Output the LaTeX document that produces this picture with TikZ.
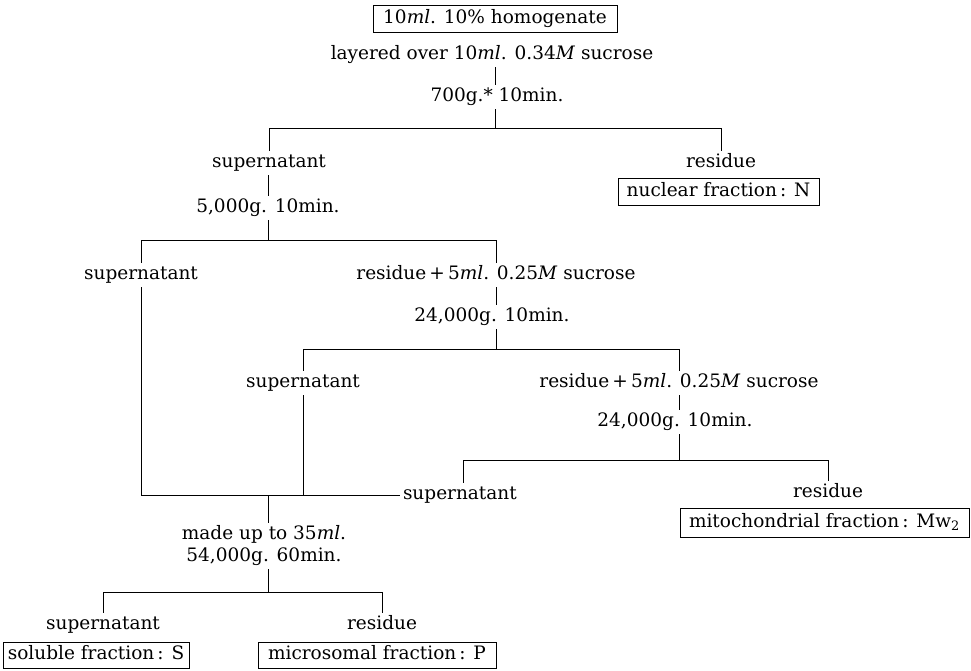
\documentclass[tikz,border=0pt]{standalone}
\usepackage{fontspec}
\setmainfont{DejaVu Serif}
\begin{document}
\begin{tikzpicture}[x=1pt,y=-1pt,
  txt/.style={font=\fontsize{18.5}{22}\selectfont, inner sep=0pt, outer sep=3pt, text height=14pt, text depth=4.5pt},
  fbox/.style={txt, draw, line width=0.8pt, outer sep=0pt},
  ln/.style={line width=0.8pt}]
\useasboundingbox (0,0) rectangle (971,670);
% junction coordinates
\coordinate (a1) at (495,128); \coordinate (a1l) at (269,128); \coordinate (a1r) at (721,128);
\coordinate (a2) at (268,240); \coordinate (a2l) at (141,240); \coordinate (a2r) at (496,240);
\coordinate (a3) at (496,349); \coordinate (a3l) at (303,349); \coordinate (a3r) at (679,349);
\coordinate (a4) at (679,460); \coordinate (a4l) at (463,460); \coordinate (a4r) at (828,460);
\coordinate (m) at (268,495); \coordinate (ml) at (141,495);
\coordinate (a5) at (268,592); \coordinate (a5l) at (103,592); \coordinate (a5r) at (382,592);
% nodes
\node[fbox, minimum width=244pt, minimum height=27pt] (hom) at (495,18.5) {10\textit{ml}. 10\% homogenate};
\node[txt] (lay) at (492,55) {layered over 10\textit{ml}. 0.34\textit{M} sucrose};
\node[txt] (c700) at (497,97) {700g.* 10min.};
\node[txt] (sup1) at (269,163) {supernatant};
\node[txt] (res1) at (721,163) {residue};
\node[fbox, minimum width=201pt, minimum height=27pt] (nuc) at (718.5,191.5) {nuclear fraction\,: N};
\node[txt] (c5000) at (268,208) {5,000g. 10min.};
\node[txt] (sup2) at (141,275) {supernatant};
\node[txt] (res2) at (496,275) {residue\,+\,5\textit{ml}. 0.25\textit{M} sucrose};
\node[txt] (c24a) at (492,317) {24,000g. 10min.};
\node[txt] (sup3) at (303,383) {supernatant};
\node[txt] (res3) at (679,383) {residue\,+\,5\textit{ml}. 0.25\textit{M} sucrose};
\node[txt] (c24b) at (675,422) {24,000g. 10min.};
\node[txt, anchor=west] (sup4) at (400,495) {supernatant};
\node[txt] (res4) at (828,493) {residue};
\node[fbox, minimum width=289pt, minimum height=29pt] (mito) at (824.5,522.5) {mitochondrial fraction\,: Mw\textsubscript{2}};
\node[font=\fontsize{18.5}{22}\selectfont, inner sep=0pt, outer sep=3pt, align=center] (made) at (264,546) {made up to 35\textit{ml}.\\54,000g. 60min.};
\node[txt] (sup5) at (103,625) {supernatant};
\node[txt] (res5) at (382,625) {residue};
\node[fbox, minimum width=186pt, minimum height=26pt] (sol) at (96,655) {soluble fraction\,: S};
\node[fbox, minimum width=238pt, minimum height=26pt] (mic) at (377,655) {microsomal fraction\,: P};
% connectors
\draw[ln] (lay.south -| a1) -- (c700.north -| a1);
\draw[ln] (c700.south -| a1) -- (a1);
\draw[ln] (a1l) -- (a1r);
\draw[ln] (a1l) -- (sup1.north -| a1l);
\draw[ln] (a1r) -- (res1.north -| a1r);
\draw[ln] (sup1.south -| a2) -- (c5000.north -| a2);
\draw[ln] (c5000.south -| a2) -- (a2);
\draw[ln] (a2l) -- (a2r);
\draw[ln] (a2l) -- (sup2.north -| a2l);
\draw[ln] (a2r) -- (res2.north -| a2r);
\draw[ln] (res2.south -| a3) -- (c24a.north -| a3);
\draw[ln] (c24a.south -| a3) -- (a3);
\draw[ln] (a3l) -- (a3r);
\draw[ln] (a3l) -- (sup3.north -| a3l);
\draw[ln] (a3r) -- (res3.north -| a3r);
\draw[ln] (res3.south -| a4) -- (c24b.north -| a4);
\draw[ln] (c24b.south -| a4) -- (a4);
\draw[ln] (a4l) -- (a4r);
\draw[ln] (a4l) -- (sup4.north -| a4l);
\draw[ln] (a4r) -- (res4.north -| a4r);
\draw[ln] (sup2.south -| ml) -- (ml) -- (sup4.west);
\draw[ln] (sup3.south -| a3l) -- (a3l |- ml);
\draw[ln] (m) -- (made.north -| m);
\draw[ln] (made.south -| a5) -- (a5);
\draw[ln] (a5l) -- (a5r);
\draw[ln] (a5l) -- (sup5.north -| a5l);
\draw[ln] (a5r) -- (res5.north -| a5r);
\end{tikzpicture}
\end{document}
